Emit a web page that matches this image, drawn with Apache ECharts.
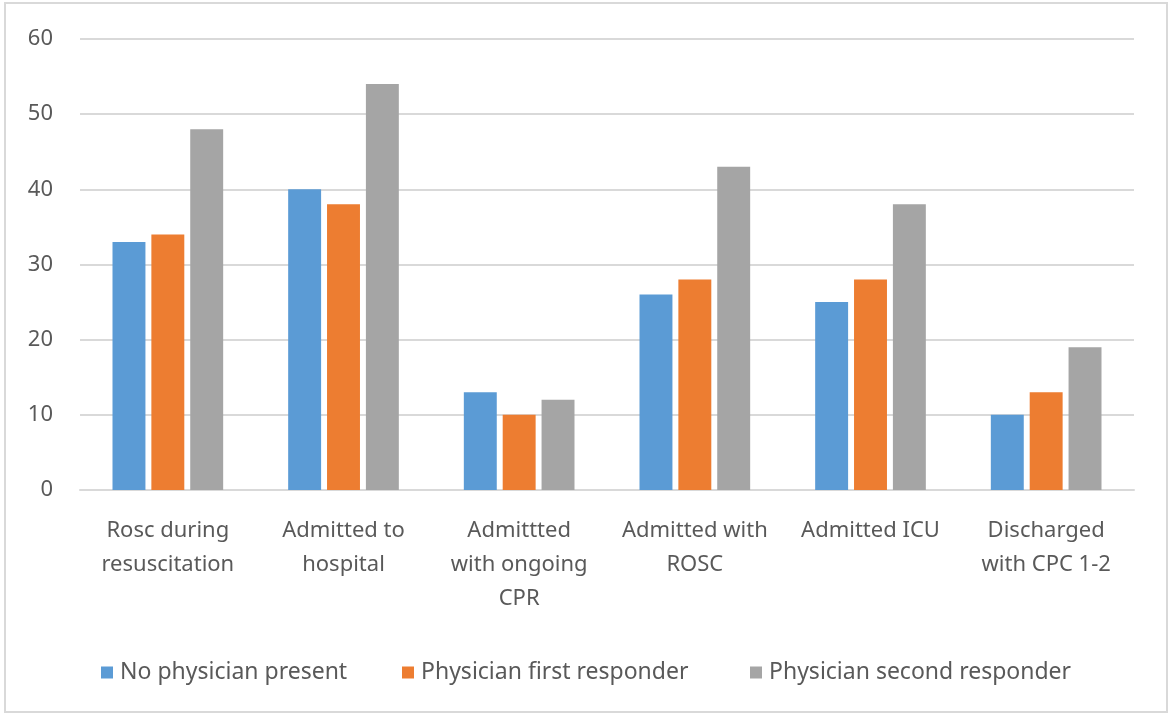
<!DOCTYPE html>
<html>
<head>
<meta charset="utf-8">
<script src="https://cdn.jsdelivr.net/npm/echarts@6/dist/echarts.min.js"></script>
<style>
  html, body { margin: 0; padding: 0; background: #fff; }
  #chart { width: 1169px; height: 715px; }
</style>
</head>
<body>
<div id="chart"></div>
<script>
// Outcome categories along the x axis
const categories = [
  'Rosc during\nresuscitation',
  'Admitted to\nhospital',
  'Admittted\nwith ongoing\nCPR',
  'Admitted with\nROSC',
  'Admitted ICU',
  'Discharged\nwith CPC 1-2'
];

// Values per responder group
const noPhysician = [33, 40, 13, 26, 25, 10];
const physicianFirst = [34, 38, 10, 28, 28, 13];
const physicianSecond = [48, 54, 12, 43, 38, 19];

const seriesNames = ['No physician present', 'Physician first responder', 'Physician second responder'];
const seriesColors = ['#5b9bd5', '#ed7d31', '#a5a5a5'];
const yTicks = [0, 10, 20, 30, 40, 50, 60];

const FONT = 'Noto Sans';
const TEXT = '#595959';

const chart = echarts.init(document.getElementById('chart'), null, { renderer: 'canvas' });

const bar = (i, data) => ({
  name: seriesNames[i],
  type: 'bar',
  data,
  barGap: '18%',
  barCategoryGap: '37%',
  itemStyle: { color: seriesColors[i] },
  emphasis: { disabled: true }
});

// One legend entry per component so each sits at its own x position
const legendLeft = [96, 397, 745];
const legends = seriesNames.map((name, i) => ({
  data: [name],
  left: legendLeft[i],
  top: 656,
  icon: 'rect',
  itemWidth: 12,
  itemHeight: 12,
  selectedMode: false,
  textStyle: { fontFamily: FONT, fontSize: 23, color: TEXT, padding: [0, 0, 0, 2] }
}));

chart.setOption({
  animation: false,
  textStyle: { fontFamily: FONT },
  graphic: [{
    type: 'rect',
    shape: { x: 5, y: 3, width: 1162, height: 709 },
    style: { fill: 'none', stroke: '#d9d9d9', lineWidth: 2 },
    silent: true
  }],
  grid: { left: 80, right: 35, top: 39, bottom: 225, containLabel: false },
  legend: legends,
  xAxis: {
    type: 'category',
    data: categories,
    axisLine: { lineStyle: { color: '#d9d9d9', width: 2 } },
    axisTick: { show: false },
    axisLabel: {
      interval: 0,
      margin: 24,
      fontFamily: FONT,
      fontSize: 22,
      lineHeight: 34,
      color: TEXT,
      verticalAlign: 'top'
    }
  },
  yAxis: {
    type: 'value',
    min: yTicks[0],
    max: yTicks[yTicks.length - 1],
    interval: 10,
    axisLine: { show: false },
    axisTick: { show: false },
    splitLine: { lineStyle: { color: '#d9d9d9', width: 2 } },
    axisLabel: { margin: 27, fontFamily: FONT, fontSize: 22, color: TEXT }
  },
  series: [
    bar(0, noPhysician),
    bar(1, physicianFirst),
    bar(2, physicianSecond)
  ]
});
</script>
</body>
</html>
